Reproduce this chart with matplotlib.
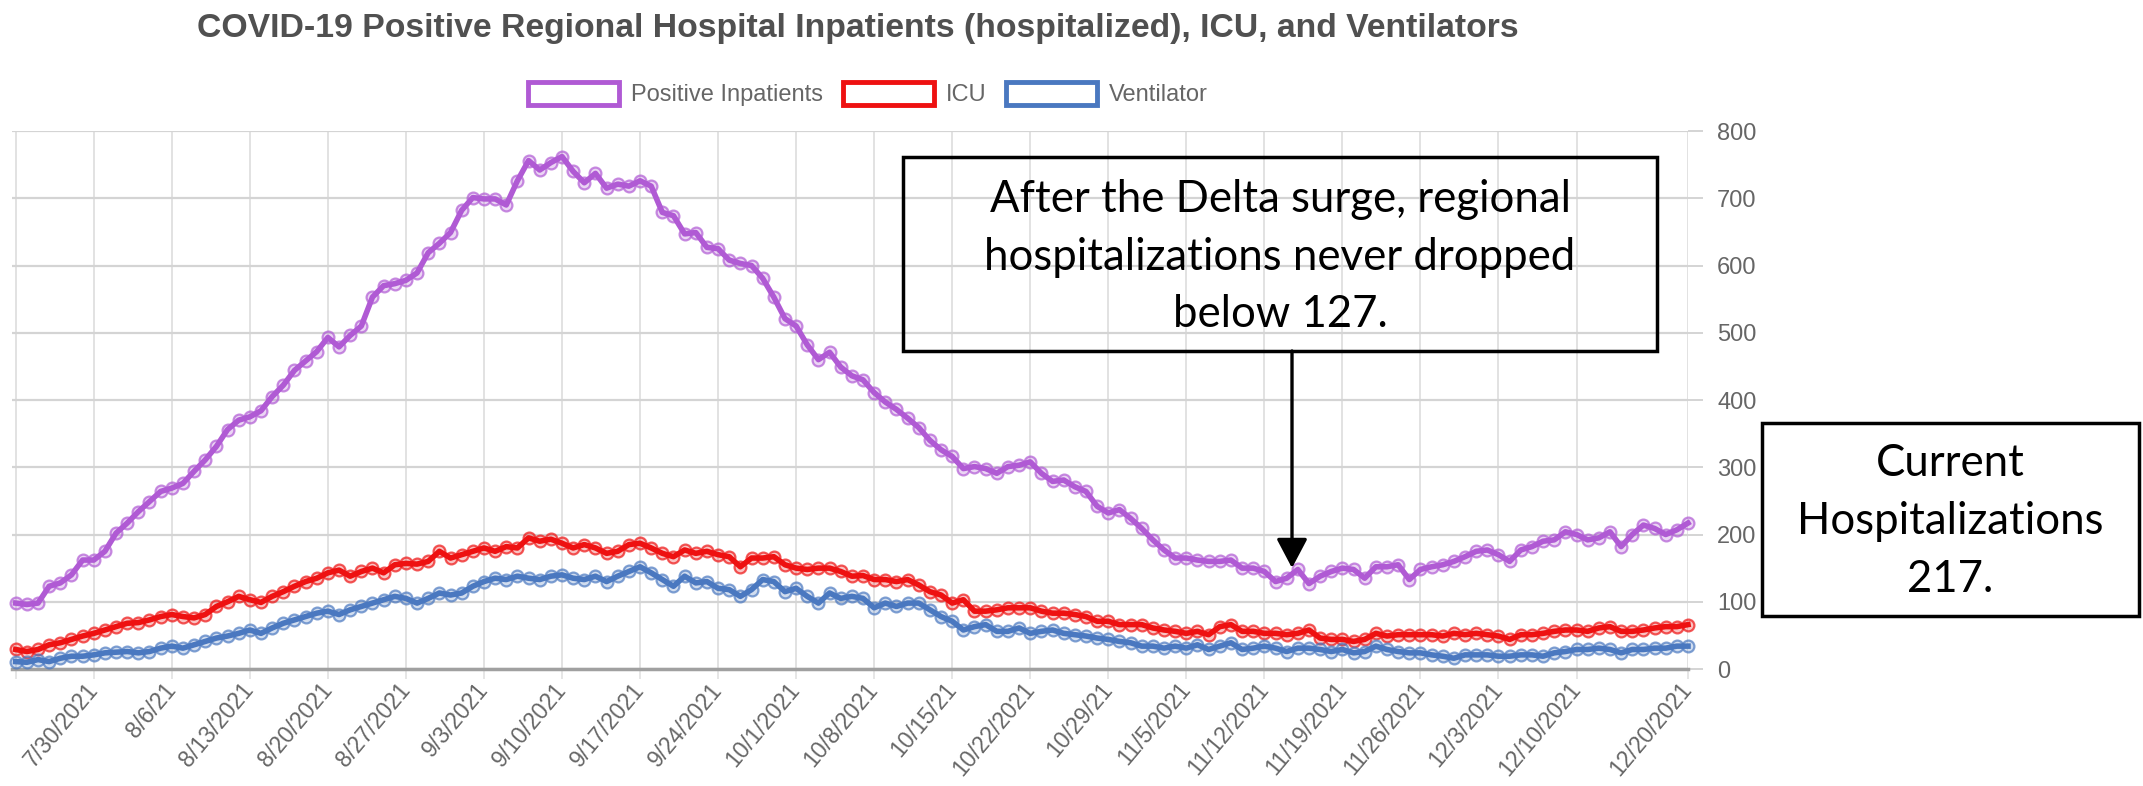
import pandas as pd
import matplotlib
matplotlib.use('Agg')
import matplotlib.pyplot as plt
from matplotlib.patches import Rectangle, Patch, FancyArrowPatch

# daily values 7/23/2021 .. 12/20/2021
dates = pd.date_range('2021-07-23', '2021-12-20', freq='D')

positive_inpatients = [
    98, 96, 98, 123, 128, 140, 162, 162, 175, 202,
    217, 234, 249, 264, 269, 276, 294, 311, 331, 356,
    370, 375, 384, 405, 422, 444, 458, 472, 493, 479,
    496, 510, 553, 570, 573, 578, 589, 619, 633, 649,
    682, 701, 699, 699, 690, 726, 756, 742, 753, 762,
    740, 723, 737, 715, 721, 718, 726, 718, 679, 674,
    647, 649, 627, 625, 608, 603, 600, 581, 553, 521,
    510, 482, 460, 471, 449, 436, 430, 411, 397, 386,
    373, 359, 340, 326, 316, 298, 301, 298, 291, 301,
    303, 308, 291, 279, 281, 271, 264, 242, 232, 237,
    224, 209, 192, 177, 165, 165, 162, 160, 160, 162,
    150, 150, 145, 130, 135, 148, 127, 138, 145, 150,
    148, 135, 152, 152, 155, 133, 148, 152, 155, 160,
    167, 175, 177, 170, 160, 177, 182, 190, 192, 204,
    200, 192, 195, 204, 182, 200, 214, 209, 200, 207,
    217]

icu = [
    29, 26, 29, 36, 39, 44, 49, 53, 58, 63,
    68, 69, 73, 78, 81, 78, 76, 81, 93, 100,
    108, 103, 99, 108, 115, 123, 130, 135, 143, 147,
    138, 145, 150, 143, 155, 157, 156, 160, 175, 165,
    170, 175, 180, 175, 182, 180, 195, 190, 193, 187,
    180, 185, 180, 172, 175, 185, 187, 180, 172, 167,
    177, 172, 175, 170, 167, 152, 165, 165, 167, 155,
    150, 148, 150, 150, 145, 138, 139, 133, 133, 130,
    133, 125, 115, 110, 98, 103, 86, 86, 88, 91,
    91, 91, 86, 83, 83, 81, 78, 71, 71, 66,
    66, 66, 61, 58, 56, 53, 56, 51, 63, 66,
    56, 56, 53, 53, 51, 53, 58, 46, 44, 44,
    41, 44, 53, 49, 51, 51, 51, 51, 49, 53,
    51, 53, 51, 49, 44, 51, 51, 53, 56, 58,
    58, 56, 61, 63, 56, 56, 58, 61, 63, 63,
    66]

ventilator = [
    11, 10, 14, 11, 16, 19, 19, 21, 24, 25,
    26, 24, 26, 31, 34, 31, 36, 41, 46, 49,
    53, 58, 53, 61, 68, 73, 78, 83, 86, 81,
    88, 93, 98, 103, 108, 105, 98, 105, 113, 110,
    113, 123, 130, 135, 133, 138, 135, 133, 138, 140,
    135, 133, 138, 130, 138, 145, 152, 143, 133, 123,
    138, 128, 130, 120, 118, 108, 118, 133, 130, 115,
    120, 108, 98, 113, 105, 108, 105, 91, 98, 93,
    98, 98, 88, 78, 71, 58, 63, 66, 56, 56,
    61, 53, 56, 58, 53, 51, 49, 46, 44, 41,
    39, 34, 34, 31, 34, 31, 36, 29, 34, 39,
    29, 31, 34, 31, 26, 31, 31, 29, 26, 29,
    24, 26, 34, 29, 26, 24, 24, 21, 19, 16,
    21, 21, 21, 19, 19, 21, 21, 19, 24, 26,
    29, 29, 31, 29, 24, 29, 29, 31, 31, 34,
    34]

tick_dates = ['2021-07-23', '2021-07-30', '2021-08-06', '2021-08-13', '2021-08-20',
              '2021-08-27', '2021-09-03', '2021-09-10', '2021-09-17', '2021-09-24',
              '2021-10-01', '2021-10-08', '2021-10-15', '2021-10-22', '2021-10-29',
              '2021-11-05', '2021-11-12', '2021-11-19', '2021-11-26', '2021-12-03',
              '2021-12-10', '2021-12-20']
# first tick sits on the left edge, its label is off the picture
tick_labels = ['', '7/30/2021', '8/6/21', '8/13/2021', '8/20/2021',
               '8/27/2021', '9/3/2021', '9/10/2021', '9/17/2021', '9/24/2021',
               '10/1/2021', '10/8/2021', '10/15/21', '10/22/2021', '10/29/21',
               '11/5/2021', '11/12/2021', '11/19/2021', '11/26/2021', '12/3/2021',
               '12/10/2021', '12/20/2021']

series_names = ['Positive Inpatients', 'ICU', 'Ventilator']
colors = ['#b05ad4', '#ee1111', '#4a78c0']

title = 'COVID-19 Positive Regional Hospital Inpatients (hospitalized), ICU, and Ventilators'
note_lines = ['After the Delta surge, regional', 'hospitalizations never dropped', 'below 127.']
current_lines = ['Current', 'Hospitalizations', '217.']

W, H = 2143, 786
fig = plt.figure(figsize=(W / 100, H / 100), dpi=100)
fig.patch.set_facecolor('white')


def fx(px):
    return px / W


def fy(py):
    return 1 - py / H


ax = fig.add_axes([fx(12), fy(669), fx(1688 - 12), (669 - 131) / H])

for vals, col in zip([positive_inpatients, icu, ventilator], colors):
    rgb = matplotlib.colors.to_rgb(col)
    ax.plot(dates, vals, color=col, lw=4, marker='o', markersize=8.5,
            markerfacecolor=rgb + (0.25,), markeredgecolor=rgb + (0.7,),
            markeredgewidth=1.6, clip_on=False, zorder=3)

ax.set_xlim(dates[0] - pd.Timedelta(hours=8), dates[-1])
ax.set_ylim(0, 800)
ax.set_yticks(range(0, 801, 100))
ax.set_xticks(pd.to_datetime(tick_dates))
ax.set_xticklabels(tick_labels, rotation=50, ha='right', va='center',
                   rotation_mode='anchor')

ax.yaxis.tick_right()
ax.grid(True, axis='y', color='#d4d4d4', lw=1.6, zorder=0)
ax.grid(True, axis='x', color='#e2e2e2', lw=1.4, zorder=0)
for s in ['top', 'left', 'right']:
    ax.spines[s].set_visible(False)
ax.spines['bottom'].set_color('#a0a0a0')
ax.spines['bottom'].set_linewidth(2.5)

ax.tick_params(axis='y', length=11, width=1.4, color='#d4d4d4', pad=10,
               labelsize=17, labelcolor='#666666')
ax.tick_params(axis='x', length=7, width=1.2, color='#e2e2e2', pad=5,
               labelsize=16.5, labelcolor='#666666')
for lab in ax.get_xticklabels() + ax.get_yticklabels():
    lab.set_family('Liberation Sans')

fig.text(fx(858), fy(28), title, ha='center', va='center', fontsize=24.3,
         fontweight='bold', family='Liberation Sans', color='#505050')

handles = [Patch(facecolor='white', edgecolor=c, linewidth=3.5) for c in colors]
fig.legend(handles, series_names, loc='center', bbox_to_anchor=(fx(868), fy(94)),
           ncol=3, frameon=False, prop={'family': 'Liberation Sans', 'size': 17},
           labelcolor='#666666', handlelength=3.85, handleheight=1.15,
           handletextpad=0.5, columnspacing=0.85)

# annotation boxes
fig.add_artist(Rectangle((fx(903), fy(351)), fx(1657 - 903), (351 - 157) / H,
                         transform=fig.transFigure, fill=False,
                         edgecolor='black', lw=2.5))
for i, line in enumerate(note_lines):
    fig.text(fx(1280), fy(199 + 58 * i), line, ha='center', va='center',
             fontsize=31.5, family='Lato', color='black')

fig.add_artist(FancyArrowPatch((fx(1292), fy(351)), (fx(1292), fy(568)),
                               transform=fig.transFigure,
                               arrowstyle='-|>,head_length=1.8,head_width=0.95',
                               mutation_scale=10, lw=2.4, color='black',
                               shrinkA=0, shrinkB=0))

fig.add_artist(Rectangle((fx(1762), fy(616)), fx(2139 - 1762), (616 - 423) / H,
                         transform=fig.transFigure, fill=False,
                         edgecolor='black', lw=2.5))
for i, line in enumerate(current_lines):
    fig.text(fx(1950), fy(464 + 58 * i), line, ha='center', va='center',
             fontsize=31.5, family='Lato', color='black')

fig.savefig('out.png', dpi=100, facecolor='white')
